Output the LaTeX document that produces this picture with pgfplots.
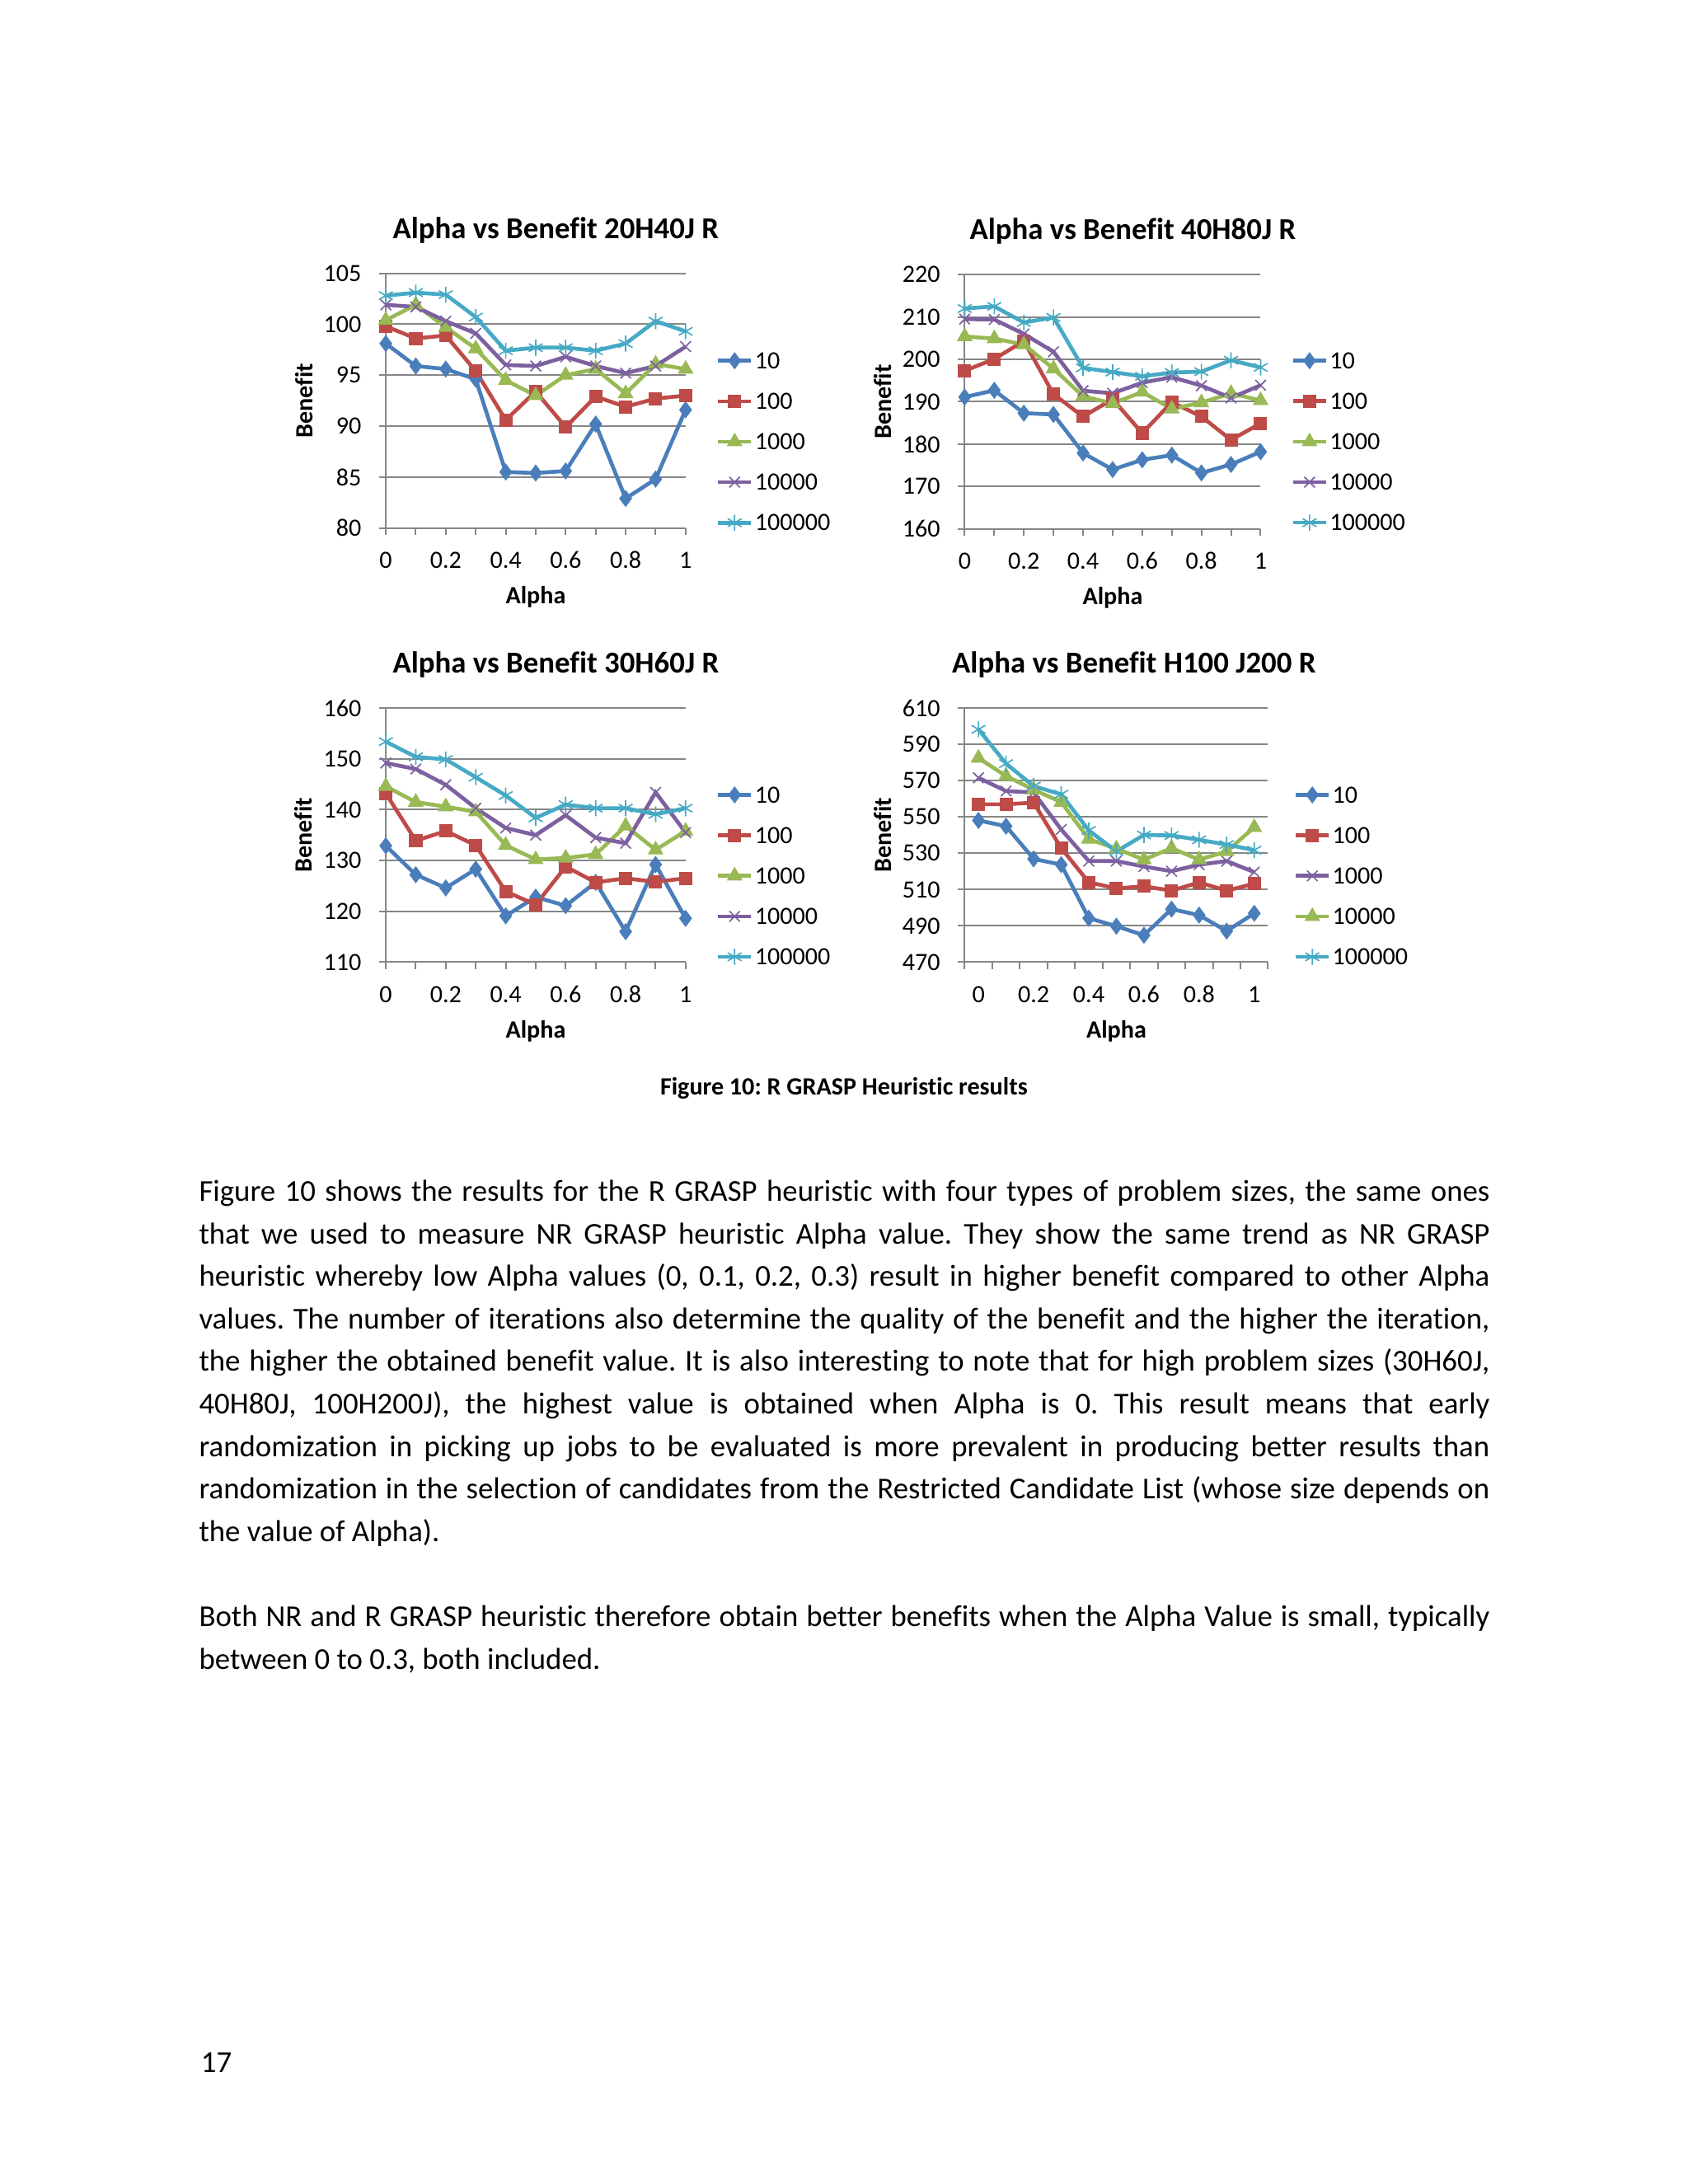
\documentclass[border=0pt]{standalone}
\usepackage{fontspec}
\setmainfont{Carlito}[Ligatures=NoCommon]
\usepackage{pgfplots}
\pgfplotsset{compat=1.18}
\usepackage{pgfplotstable}
\frenchspacing

\definecolor{xblue}{HTML}{4A7EBB}
\definecolor{xred}{HTML}{BE4B48}
\definecolor{xgreen}{HTML}{98B954}
\definecolor{xpurple}{HTML}{7D60A0}
\definecolor{xcyan}{HTML}{46AAC5}
\definecolor{gridgray}{HTML}{868686}

% Chart 1: 20H40J
\pgfplotstableread{
a    s10   s100  s1000  s10000 s100000
0.0  98.1  99.8  100.4  101.9  102.8
0.1  95.9  98.6  101.9  101.7  103.1
0.2  95.6  98.9  99.7   100.3  102.9
0.3  94.6  95.4  97.6   99.1   100.7
0.4  85.5  90.6  94.5   96.0   97.4
0.5  85.4  93.4  93.0   95.9   97.7
0.6  85.6  89.9  95.0   96.8   97.7
0.7  90.2  92.9  95.6   95.9   97.4
0.8  82.9  91.9  93.2   95.2   98.1
0.9  84.8  92.7  96.1   95.9   100.3
1.0  91.6  93.0  95.6   97.8   99.3
}\tabA
% Chart 2: 40H80J
\pgfplotstableread{
a    s10    s100   s1000  s10000 s100000
0.0  191.1  197.3  205.4  209.5  212.0
0.1  192.7  200.1  204.9  209.4  212.5
0.2  187.3  204.3  203.5  206.0  208.7
0.3  187.0  191.8  197.8  201.8  209.9
0.4  177.9  186.5  191.3  192.6  198.0
0.5  174.0  190.6  189.6  192.0  197.0
0.6  176.3  182.6  192.3  194.5  196.0
0.7  177.4  189.9  188.3  195.8  196.9
0.8  173.2  186.5  189.8  193.8  197.1
0.9  175.2  181.0  192.0  190.9  199.8
1.0  178.2  184.9  190.3  193.9  198.1
}\tabB
% Chart 3: 30H60J
\pgfplotstableread{
a    s10    s100   s1000  s10000 s100000
0.0  132.9  143.2  144.6  149.2  153.4
0.1  127.2  133.9  141.5  148.0  150.4
0.2  124.6  135.8  140.6  144.9  149.9
0.3  128.3  133.0  139.6  140.3  146.4
0.4  119.1  123.9  133.0  136.4  142.8
0.5  122.8  121.3  130.2  135.0  138.4
0.6  121.1  128.8  130.5  138.9  141.0
0.7  125.7  125.7  131.2  134.5  140.3
0.8  116.0  126.5  136.8  133.4  140.3
0.9  129.2  125.8  132.1  143.4  139.1
1.0  118.6  126.5  135.8  135.5  140.3
}\tabC
% Chart 4: H100 J200 (category axis, index 0..10 = alpha 0..1)
\pgfplotstableread{
i   s10    s100   s1000  s10000 s100000
0   548.1  557.0  571.6  582.5  598.3
1   544.9  557.0  564.3  572.6  579.4
2   526.9  557.9  563.5  565.0  567.0
3   523.7  532.8  543.1  558.2  562.5
4   494.2  514.0  525.7  537.8  542.6
5   489.8  510.6  525.7  532.5  531.0
6   484.8  511.8  522.7  526.5  540.1
7   499.2  509.4  520.1  532.8  539.8
8   495.9  513.9  523.7  526.5  537.4
9   487.1  509.4  525.7  531.0  534.8
10  496.9  513.2  519.6  544.3  531.7
}\tabD

\pgfplotsset{
  excel/.style={
    scale only axis, clip=false,
    axis x line*=bottom, axis y line*=left,
    axis line style={-, draw=gridgray, line width=0.6pt},
    ymajorgrids, grid style={draw=gridgray, line width=0.6pt},
    tick align=outside, major tick length=2.5pt,
    tick style={draw=gridgray, line width=0.6pt},
    /pgf/number format/assume math mode=true,
    ticklabel style={font=\fontsize{9}{9}\selectfont, text=black},
    xticklabel style={anchor=base, inner sep=0pt},
    xticklabel shift=12.2pt,
    yticklabel style={anchor=east, inner sep=0pt},
    yticklabel shift=6.2pt,
    title style={anchor=base, inner sep=0pt, yshift=-6pt, font=\bfseries\fontsize{11}{11}\selectfont},
    xlabel=Alpha, ylabel=Benefit,
    xlabel style={at={(axis description cs:0.5,-0.298)}, anchor=base, inner sep=0pt, font=\bfseries\fontsize{9}{9}\selectfont},
    ylabel style={anchor=center, inner sep=0pt, font=\bfseries\fontsize{9}{9}\selectfont},
    legend cell align=left,
    legend style={draw=none, fill=none, inner sep=0pt, outer sep=0pt,
      row sep=0pt, column sep=0.6pt, anchor=north west,
      font=\fontsize{9}{9}\selectfont,
      nodes={inner sep=0pt, text height=10.19pt, text depth=4.49pt}},
    legend image code/.code={\draw[mark repeat=2,mark phase=2] plot coordinates {(0pt,0pt) (6pt,0pt) (12pt,0pt)};},
  },
  alphax/.style={xmin=0, xmax=1,
    xtick={0,0.1,0.2,0.3,0.4,0.5,0.6,0.7,0.8,0.9,1},
    xticklabels={0,,0.2,,0.4,,0.6,,0.8,,1}},
  sA/.style={xblue, line width=1.4pt, mark=diamond*, mark size=2.8pt, mark options={solid, fill=xblue, line width=0.4pt}},
  sB/.style={xred, line width=1.4pt, mark=square*, mark size=2.2pt, mark options={solid, fill=xred, line width=0.4pt}},
  sC/.style={xgreen, line width=1.4pt, mark=triangle*, mark size=2.9pt, mark options={solid, fill=xgreen, line width=0.4pt}},
  sD/.style={xpurple, line width=1.4pt, mark=x, mark size=2.7pt, mark options={solid, line width=0.5pt}},
  sE/.style={xcyan, line width=1.4pt, mark=asterisk, mark size=2.9pt, mark options={solid, line width=0.5pt}},
}

\newcommand\jline[2]{\node[anchor=base west, inner sep=0pt, font=\fontsize{11}{13}\selectfont] at (72pt,{792pt-#1}) {\makebox[468pt][s]{#2}};}
\newcommand\lline[2]{\node[anchor=base west, inner sep=0pt, font=\fontsize{11}{13}\selectfont] at (72pt,{792pt-#1}) {#2};}

\begin{document}
\begin{tikzpicture}
\fill[white] (0,0) rectangle (612pt,792pt);

% ---- Chart 1
\begin{axis}[excel, alphax, at={(139.9pt,600.5pt)}, anchor=south west,
  width=108.7pt, height=92.4pt, ymin=80, ymax=105, ytick={80,85,90,95,100,105},
  title={Alpha vs Benefit 20H40J R},
  title style={at={(axis description cs:0.567,1.136)}},
  ylabel style={at={(axis description cs:-0.272,0.5)}},
  legend style={at={(axis description cs:1.102,0.736)}}]
\addplot[sA] table[x=a,y=s10]{\tabA}; \addlegendentry{10}
\addplot[sB] table[x=a,y=s100]{\tabA}; \addlegendentry{100}
\addplot[sC] table[x=a,y=s1000]{\tabA}; \addlegendentry{1000}
\addplot[sD] table[x=a,y=s10000]{\tabA}; \addlegendentry{10000}
\addplot[sE] table[x=a,y=s100000]{\tabA}; \addlegendentry{100000}
\end{axis}

% ---- Chart 2
\begin{axis}[excel, alphax, at={(349.8pt,600.2pt)}, anchor=south west,
  width=107.3pt, height=92.2pt, ymin=160, ymax=220, ytick={160,170,...,220},
  title={Alpha vs Benefit 40H80J R},
  title style={at={(axis description cs:0.568,1.14)}},
  ylabel style={at={(axis description cs:-0.277,0.5)}},
  legend style={at={(axis description cs:1.103,0.741)}}]
\addplot[sA] table[x=a,y=s10]{\tabB}; \addlegendentry{10}
\addplot[sB] table[x=a,y=s100]{\tabB}; \addlegendentry{100}
\addplot[sC] table[x=a,y=s1000]{\tabB}; \addlegendentry{1000}
\addplot[sD] table[x=a,y=s10000]{\tabB}; \addlegendentry{10000}
\addplot[sE] table[x=a,y=s100000]{\tabB}; \addlegendentry{100000}
\end{axis}

% ---- Chart 3
\begin{axis}[excel, alphax, at={(139.9pt,443.1pt)}, anchor=south west,
  width=108.7pt, height=92.1pt, ymin=110, ymax=160, ytick={110,120,...,160},
  title={Alpha vs Benefit 30H60J R},
  title style={at={(axis description cs:0.567,1.138)}},
  xlabel style={at={(axis description cs:0.5,-0.300)}},
  ylabel style={at={(axis description cs:-0.276,0.5)}},
  legend style={at={(axis description cs:1.102,0.738)}}]
\addplot[sA] table[x=a,y=s10]{\tabC}; \addlegendentry{10}
\addplot[sB] table[x=a,y=s100]{\tabC}; \addlegendentry{100}
\addplot[sC] table[x=a,y=s1000]{\tabC}; \addlegendentry{1000}
\addplot[sD] table[x=a,y=s10000]{\tabC}; \addlegendentry{10000}
\addplot[sE] table[x=a,y=s100000]{\tabC}; \addlegendentry{100000}
\end{axis}

% ---- Chart 4
\begin{axis}[excel, at={(349.8pt,443.1pt)}, anchor=south west,
  width=110pt, height=92.1pt, ymin=470, ymax=610, ytick={470,490,...,610},
  xmin=-0.5, xmax=10.5,
  xtick={-0.5,0.5,1.5,2.5,3.5,4.5,5.5,6.5,7.5,8.5,9.5,10.5}, xticklabels={},
  extra x ticks={0,2,4,6,8,10},
  extra x tick labels={0,0.2,0.4,0.6,0.8,1},
  extra x tick style={major tick style={draw=none}},
  title={Alpha vs Benefit H100 J200 R},
  title style={at={(axis description cs:0.558,1.138)}},
  xlabel style={at={(axis description cs:0.5,-0.300)}},
  ylabel style={at={(axis description cs:-0.27,0.5)}},
  legend style={at={(axis description cs:1.085,0.738)}}]
\addplot[sA] table[x=i,y=s10]{\tabD}; \addlegendentry{10}
\addplot[sB] table[x=i,y=s100]{\tabD}; \addlegendentry{100}
\addplot[sD] table[x=i,y=s1000]{\tabD}; \addlegendentry{1000}
\addplot[sC] table[x=i,y=s10000]{\tabD}; \addlegendentry{10000}
\addplot[sE] table[x=i,y=s100000]{\tabD}; \addlegendentry{100000}
\end{axis}

% ---- Caption
\node[anchor=base, inner sep=0pt, font=\bfseries\fontsize{9}{9}\selectfont] at (306pt,394.8pt) {Figure 10: R GRASP Heuristic results};

% ---- Body text
\jline{435.6pt}{Figure 10 shows the results for the R GRASP heuristic with four types of problem sizes, the same ones}
\jline{451.02pt}{that we used to measure NR GRASP heuristic Alpha value. They show the same trend as NR GRASP}
\jline{466.44pt}{heuristic whereby low Alpha values (0, 0.1, 0.2, 0.3) result in higher benefit compared to other Alpha}
\jline{481.86pt}{values. The number of iterations also determine the quality of the benefit and the higher the iteration,}
\jline{497.28pt}{the higher the obtained benefit value. It is also interesting to note that for high problem sizes (30H60J,}
\jline{512.7pt}{40H80J, 100H200J), the highest value is obtained when Alpha is 0. This result means that early}
\jline{528.12pt}{randomization in picking up jobs to be evaluated is more prevalent in producing better results than}
\jline{543.54pt}{randomization in the selection of candidates from the Restricted Candidate List (whose size depends on}
\lline{558.96pt}{the value of Alpha).}
\jline{589.8pt}{Both NR and R GRASP heuristic therefore obtain better benefits when the Alpha Value is small, typically}
\lline{605.22pt}{between 0 to 0.3, both included.}

% ---- Page number
\node[anchor=base west, inner sep=0pt, font=\fontsize{11}{13}\selectfont] at (72.7pt,40.6pt) {17};
\end{tikzpicture}
\end{document}
